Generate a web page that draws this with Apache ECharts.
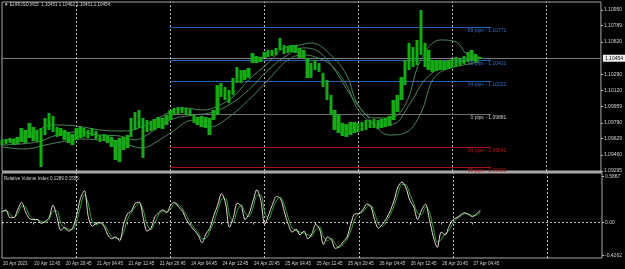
<!DOCTYPE html>
<html><head><meta charset="utf-8">
<script src="https://cdn.jsdelivr.net/npm/echarts@6/dist/echarts.min.js"></script>
<style>html,body{margin:0;padding:0;background:#000;overflow:hidden}#c{width:625px;height:269px}</style>
</head><body><div id="c"></div>
<script>
// ---- data ----
const tickLabels = ['20 Apr 2023','20 Apr 12:45','20 Apr 20:45','21 Apr 04:45','21 Apr 12:45','21 Apr 20:45','24 Apr 04:45','24 Apr 12:45','24 Apr 20:45','25 Apr 04:45','25 Apr 12:45','25 Apr 20:45','26 Apr 04:45','26 Apr 12:45','26 Apr 20:45','27 Apr 04:45'];
const slotCount = 154;
const priceHigh = [1.09614,1.09624,1.09634,1.09624,1.09645,1.09737,1.09717,1.09789,1.09747,1.09717,
1.09737,1.09840,1.09891,1.09861,1.09747,1.09737,1.09717,1.09696,1.09675,1.09737,
1.09747,1.09737,1.09717,1.09737,1.09706,1.09665,1.09675,1.09665,1.09645,1.09614,
1.09634,1.09645,1.09665,1.09840,1.09902,1.09922,1.09840,1.09819,1.09809,1.09830,
1.09850,1.09840,1.09871,1.09922,1.09943,1.09953,1.09953,1.09943,1.09932,1.09871,
1.09850,1.09861,1.09850,1.09840,1.09922,1.10179,1.10200,1.10159,1.10128,1.10251,
1.10364,1.10333,1.10333,1.10354,1.10508,1.10477,1.10467,1.10518,1.10539,1.10539,
1.10560,1.10662,1.10590,1.10580,1.10590,1.10590,1.10560,1.10539,1.10457,1.10405,
1.10436,1.10405,1.10303,1.10231,1.10077,1.09922,1.09871,1.09789,1.09778,1.09799,
1.09799,1.09789,1.09799,1.09819,1.09819,1.09830,1.09819,1.09830,1.09840,1.09861,
1.10025,1.10077,1.10261,1.10436,1.10611,1.10570,1.10642,1.10950,1.10611,1.10539,
1.10436,1.10436,1.10436,1.10426,1.10436,1.10446,1.10467,1.10457,1.10477,1.10518,
1.10539,1.10498,1.10467];
const priceLow = [1.09562,1.09573,1.09583,1.09562,1.09573,1.09593,1.09583,1.09634,1.09603,1.09593,
1.09336,1.09665,1.09717,1.09696,1.09645,1.09655,1.09614,1.09583,1.09562,1.09614,
1.09634,1.09645,1.09634,1.09655,1.09624,1.09593,1.09603,1.09583,1.09542,1.09408,
1.09388,1.09511,1.09531,1.09645,1.09717,1.09737,1.09429,1.09696,1.09706,1.09717,
1.09737,1.09727,1.09768,1.09819,1.09871,1.09881,1.09891,1.09871,1.09861,1.09789,
1.09768,1.09747,1.09737,1.09665,1.09819,1.09871,1.10056,1.10025,1.09994,1.10077,
1.10200,1.10200,1.10231,1.10251,1.10405,1.10405,1.10416,1.10457,1.10467,1.10477,
1.10488,1.10539,1.10498,1.10508,1.10518,1.10508,1.10457,1.10457,1.10251,1.10251,
1.10333,1.10313,1.10159,1.10025,1.09871,1.09717,1.09686,1.09655,1.09645,1.09665,
1.09686,1.09696,1.09706,1.09717,1.09737,1.09737,1.09727,1.09737,1.09747,1.09758,
1.09819,1.09902,1.10025,1.10179,1.10333,1.10364,1.10385,1.10488,1.10364,1.10333,
1.10313,1.10323,1.10333,1.10333,1.10344,1.10354,1.10364,1.10375,1.10395,1.10416,
1.10436,1.10416,1.10446];
const maUpper = [[0,1.09614],[6,1.09645],[13,1.09768],[19,1.09758],[25,1.09717],[31,1.09706],[35,1.09737],[39,1.09819],[43,1.09902],[47,1.09943],[51,1.09922],[54,1.09943],[59,1.10056],[63,1.10231],[68,1.10405],[72,1.10560],[76,1.10590],[79,1.10611],[84,1.10488],[88,1.10282],[91,1.09974],[95,1.09840],[99,1.09840],[103,1.09974],[107,1.10436],[112,1.10642],[116,1.10621],[119,1.10488],[122,1.10467]];
const maMiddle = [[0,1.09562],[9,1.09593],[14,1.09665],[19,1.09696],[25,1.09665],[30,1.09655],[34,1.09614],[37,1.09665],[43,1.09819],[49,1.09871],[53,1.09891],[58,1.09974],[63,1.10128],[68,1.10333],[73,1.10488],[77,1.10560],[81,1.10518],[85,1.10333],[89,1.10077],[93,1.09871],[96,1.09768],[100,1.09778],[104,1.09974],[108,1.10231],[112,1.10354],[117,1.10416],[122,1.10436]];
const maLower = [[0,1.09542],[6,1.09521],[11,1.09562],[15,1.09593],[20,1.09624],[25,1.09614],[30,1.09593],[34,1.09542],[36,1.09531],[39,1.09583],[43,1.09686],[49,1.09819],[53,1.09747],[58,1.09850],[63,1.10025],[68,1.10231],[73,1.10436],[77,1.10488],[80,1.10467],[84,1.10385],[88,1.10179],[91,1.09922],[95,1.09768],[99,1.09665],[103,1.09686],[107,1.09891],[110,1.10231],[113,1.10333],[118,1.10385],[122,1.10416]];
const rviMain = [0.136,0.161,0.062,0.062,0.161,0.259,0.136,0.049,0.037,0.037,
-0.012,0.012,0.062,0.222,0.074,-0.099,-0.062,-0.111,-0.074,0.086,
0.309,0.408,0.074,-0.049,-0.012,0.000,-0.049,-0.161,-0.210,-0.185,
-0.235,-0.025,0.111,0.148,0.247,0.259,0.062,-0.111,-0.074,0.074,
0.124,0.161,0.124,0.222,0.259,0.198,0.148,0.037,-0.037,-0.099,
-0.161,-0.259,-0.148,-0.074,0.086,0.222,0.371,0.247,-0.062,0.062,
0.247,0.210,0.037,0.111,0.272,0.420,0.284,-0.025,0.099,0.235,
0.333,0.309,0.136,-0.025,-0.124,-0.086,-0.161,-0.111,-0.210,-0.148,
-0.025,-0.086,-0.284,-0.185,-0.222,-0.333,-0.309,-0.247,-0.185,-0.012,
0.111,0.111,0.161,0.235,0.210,0.037,-0.074,-0.025,0.049,0.148,
0.284,0.457,0.519,0.445,0.284,0.198,0.037,0.161,0.235,0.037,
-0.185,-0.321,-0.124,-0.161,-0.049,0.037,0.062,0.099,0.124,0.099,
0.074,0.111,0.156];
const rviSignal = [0.136,0.148,0.111,0.062,0.111,0.210,0.198,0.093,0.043,0.037,
0.012,0.000,0.037,0.142,0.148,-0.012,-0.080,-0.086,-0.093,0.006,
0.198,0.358,0.241,0.012,-0.031,-0.006,-0.025,-0.105,-0.185,-0.198,
-0.210,-0.130,0.043,0.130,0.198,0.253,0.160,-0.025,-0.093,0.000,
0.099,0.142,0.142,0.173,0.241,0.228,0.173,0.093,0.000,-0.068,
-0.130,-0.210,-0.204,-0.111,0.006,0.154,0.296,0.309,0.093,0.000,
0.154,0.228,0.124,0.074,0.191,0.346,0.352,0.130,0.037,0.167,
0.284,0.321,0.222,0.056,-0.074,-0.105,-0.124,-0.136,-0.160,-0.179,
-0.086,-0.056,-0.185,-0.235,-0.204,-0.278,-0.321,-0.278,-0.216,-0.099,
0.049,0.111,0.136,0.198,0.222,0.124,-0.019,-0.049,0.012,0.099,
0.216,0.370,0.488,0.482,0.364,0.241,0.117,0.099,0.198,0.136,
-0.074,-0.253,-0.222,-0.142,-0.105,-0.006,0.049,0.080,0.111,0.111,
0.086,0.093,0.129];
const fibLevels = [1.10771,1.10431,1.10221,1.09881,1.09541,1.09331];
const fibPips = [89,55,34,0,34,55];
const fibKinds = ['up','up','up','zero','down','down'];
const fibStartSlot = 43, fibEndSlot = 125;
const priceAxisLabels = [1.10950,1.10789,1.10620,1.10290,1.10120,1.09959,1.09790,1.09629,1.09460,1.09295];
const rviAxisLabels = [0.5867,0,-0.4262];
const lastPrice = 1.10454;
const headerText = 'EURUSD,M15  1.10451 1.10462 1.10451 1.10454';
const rviTitle = 'Relative Volume Index 0.1289 0.1556';
const gridSlots = [19,43,67,91,115,139];

// ---- chart ----
const FONT = 'Liberation Sans';
const TXT = '#d2d2d2';
const categories = Array.from({length: slotCount}, (_, i) => String(i));
const showTick = i => i % 8 === 0 && (i / 8) < tickLabels.length;
const fibColor = {up:'#1f62b4', zero:'#6f6f6f', down:'#a51414'};
const fibText = {up:'#2c6fc4', zero:'#c8c8c8', down:'#c01818'};
const dotted = {color:'#bdbdbd', type:[2,2], width:1};
const vgrid = gridSlots.map(s => ({xAxis: s, lineStyle:dotted, label:{show:false}}));
const fibLines = fibLevels.map((v, i) => [
  {coord:[fibStartSlot, v], lineStyle:{color:fibColor[fibKinds[i]], width:1, type:'solid'},
   label:{show:true, position:'insideEndBottom', distance:1, offset:[16,0], color:fibText[fibKinds[i]], fontSize:5, fontFamily:FONT,
     formatter: fibPips[i] + ' pips - ' + v.toFixed(5)}},
  {coord:[fibEndSlot, v]}
]);
const chart = echarts.init(document.getElementById('c'), null, {renderer:'canvas'});
chart.setOption({
  backgroundColor:'#000',
  animation:false,
  grid:[
    {left:2, right:23, top:2, height:169, show:true, borderColor:'#a8a8a8', borderWidth:1, containLabel:false},
    {left:2, right:23, top:173, height:85, show:true, borderColor:'#a8a8a8', borderWidth:1, containLabel:false}
  ],
  xAxis:[
    {type:'category', gridIndex:0, data:categories, boundaryGap:false, axisLine:{show:false}, axisTick:{show:false}, axisLabel:{show:false}, splitLine:{show:false}},
    {type:'category', gridIndex:1, data:categories, boundaryGap:false, axisLine:{show:false},
     axisTick:{show:true, interval:(i)=>showTick(i), length:2, lineStyle:{color:'#bdbdbd'}},
     axisLabel:{show:true, interval:(i)=>showTick(i), formatter:(v, i)=>showTick(i) ? tickLabels[i/8] : '', color:TXT, fontSize:4.5, fontFamily:FONT, align:'left', margin:3, padding:[0,0,0,1]},
     splitLine:{show:false}}
  ],
  yAxis:[
    {type:'value', gridIndex:0, position:'right', min:1.09295, max:1.11032, splitLine:{show:false}, axisLine:{show:false},
     axisTick:{show:true, customValues:priceAxisLabels, length:2, lineStyle:{color:'#bdbdbd'}},
     axisLabel:{show:true, customValues:priceAxisLabels, formatter:v=>v.toFixed(5), color:TXT, fontSize:5, fontFamily:FONT, margin:3}},
    {type:'value', gridIndex:1, position:'right', min:-0.456, max:0.634, splitLine:{show:false}, axisLine:{show:false},
     axisTick:{show:true, customValues:rviAxisLabels, length:2, lineStyle:{color:'#bdbdbd'}},
     axisLabel:{show:true, customValues:rviAxisLabels, formatter:v=>v===0?'0.00':v.toFixed(4), color:TXT, fontSize:5, fontFamily:FONT, margin:3}}
  ],
  series:[
    {type:'line', xAxisIndex:0, yAxisIndex:0, data:maUpper, smooth:0.4, symbol:'none', lineStyle:{color:'#4d8458', width:1}, z:2,
     markLine:{silent:true, symbol:'none', animation:false, z:1, precision:5,
       data:[{yAxis:lastPrice, lineStyle:{color:'#7c7c7c', width:1, type:'solid'},
          label:{show:true, position:'end', distance:2, formatter:lastPrice.toFixed(5), color:'#000', backgroundColor:'#f0f0f0', padding:[1,2,1,2], fontSize:5, fontFamily:FONT}}]}},
    {type:'line', xAxisIndex:0, yAxisIndex:0, data:maMiddle, smooth:0.4, symbol:'none', lineStyle:{color:'#4d8458', width:1}, z:2,
     markLine:{silent:true, symbol:'none', animation:false, z:1, precision:5, data:[...vgrid, ...fibLines]}},
    {type:'line', xAxisIndex:0, yAxisIndex:0, data:maLower, smooth:0.4, symbol:'none', lineStyle:{color:'#4d8458', width:1}, z:2},
    {type:'candlestick', xAxisIndex:0, yAxisIndex:0, barWidth:4,
     data: priceHigh.map((h, i) => [priceLow[i], h, priceLow[i], h]),
     itemStyle:{color:'#16aa16', color0:'#16aa16', borderColor:'#16aa16', borderColor0:'#16aa16', borderWidth:0}, z:3},
    {type:'line', xAxisIndex:1, yAxisIndex:1, data:rviSignal, smooth:0.3, symbol:'none', lineStyle:{color:'#3aa03a', width:1}, z:3,
     markLine:{silent:true, symbol:'none', animation:false, z:1, precision:5,
       data:[...gridSlots.map(s => ({xAxis:s, lineStyle:dotted, label:{show:false}})),
         {yAxis:0, lineStyle:dotted, label:{show:false}}]}},
    {type:'line', xAxisIndex:1, yAxisIndex:1, data:rviMain, smooth:0.3, symbol:'none', lineStyle:{color:'#e8dcd6', width:1}, z:4}
  ],
  graphic:[
    {type:'rect', shape:{x:2, y:171, width:600, height:2}, style:{fill:'#a8a8a8'}, silent:true},
    {type:'text', left:4, top:2, style:{text:'\u25BC ' + headerText, fill:TXT, font:'4.5px "Liberation Sans"'}},
    {type:'text', left:4, top:176, style:{text:rviTitle, fill:TXT, font:'4.5px "Liberation Sans"'}}
  ]
});
</script></body></html>
